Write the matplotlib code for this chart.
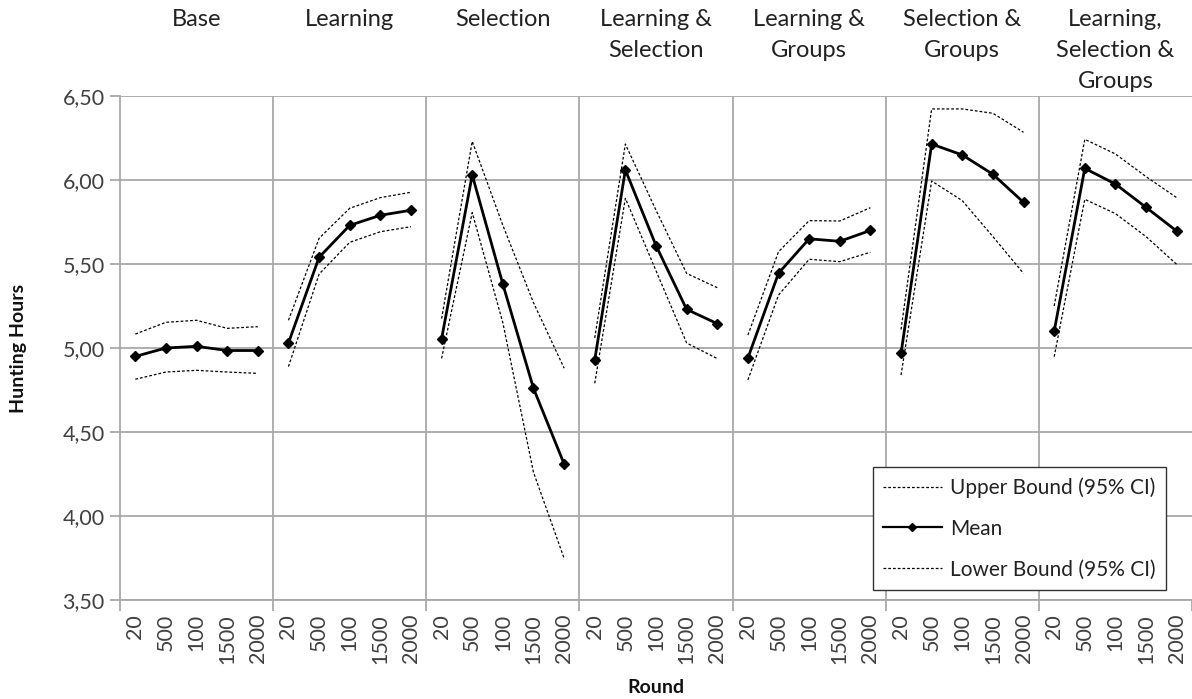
import numpy as np
import matplotlib
matplotlib.use("Agg")
import matplotlib.pyplot as plt
from matplotlib.lines import Line2D

plt.rcParams['font.family'] = ['Lato', 'DejaVu Sans']

conditions = ["Base", "Learning", "Selection", "Learning &\nSelection",
              "Learning &\nGroups", "Selection &\nGroups",
              "Learning,\nSelection &\nGroups"]
rounds = ["20", "500", "100", "1500", "2000"]

mean_values = [
    [4.95, 5.00, 5.01, 4.985, 4.985],
    [5.03, 5.54, 5.73, 5.79, 5.82],
    [5.055, 6.03, 5.38, 4.76, 4.31],
    [4.93, 6.06, 5.61, 5.23, 5.145],
    [4.94, 5.445, 5.65, 5.635, 5.70],
    [4.968, 6.214, 6.149, 6.034, 5.867],
    [5.10, 6.069, 5.976, 5.837, 5.696],
]
upper_values = [
    [5.083, 5.153, 5.165, 5.117, 5.127],
    [5.165, 5.653, 5.832, 5.895, 5.927],
    [5.175, 6.23, 5.73, 5.27, 4.88],
    [5.06, 6.214, 5.82, 5.444, 5.359],
    [5.077, 5.573, 5.758, 5.756, 5.835],
    [5.11, 6.423, 6.423, 6.397, 6.284],
    [5.25, 6.242, 6.155, 6.02, 5.895],
]
lower_values = [
    [4.814, 4.857, 4.867, 4.857, 4.849],
    [4.889, 5.44, 5.629, 5.692, 5.722],
    [4.938, 5.806, 5.15, 4.26, 3.748],
    [4.79, 5.891, 5.46, 5.03, 4.937],
    [4.81, 5.315, 5.528, 5.514, 5.57],
    [4.839, 5.994, 5.877, 5.663, 5.444],
    [4.948, 5.885, 5.80, 5.663, 5.498],
]

W, H = 1192, 699
fig = plt.figure(figsize=(W / 100, H / 100), dpi=100)
ax = fig.add_axes([120 / W, 1 - 600 / H, 1072 / W, 504 / H])

grid_c = '#a8a8a8'
text_c = '#404040'
n = len(rounds)
npan = len(conditions)

ax.set_xlim(-0.5, n * npan - 0.5)
ax.set_ylim(3.5, 6.5)
yt = np.arange(3.5, 6.51, 0.5)
ax.set_yticks(yt)
ax.set_yticklabels([f"{v:.2f}".replace('.', ',') for v in yt])
ax.yaxis.grid(True, color=grid_c, lw=1.3)
ax.set_axisbelow(True)

for p in range(1, npan):
    ax.axvline(p * n - 0.5, color=grid_c, lw=1.3, zorder=0)

ax.set_xticks(np.arange(n * npan))
ax.set_xticklabels(rounds * npan, rotation=90)
ax.set_xticks(np.arange(npan + 1) * n - 0.5, minor=True)
ax.tick_params(axis='x', which='major', length=0, pad=10, labelsize=15.5, labelcolor=text_c)
ax.tick_params(axis='x', which='minor', length=8, color=grid_c, width=1.3)
ax.tick_params(axis='y', length=7, color=grid_c, width=1.3, labelsize=15.5, labelcolor=text_c, pad=4)

for s in ['top', 'right']:
    ax.spines[s].set_visible(False)
for s in ['left', 'bottom']:
    ax.spines[s].set_color(grid_c)
    ax.spines[s].set_linewidth(1.3)

dash = (0, (2.2, 1.6))
for p in range(npan):
    xs = np.arange(n) + p * n
    ax.plot(xs, upper_values[p], color='black', lw=0.9, ls=dash)
    ax.plot(xs, mean_values[p], color='black', lw=2.0, marker='D', ms=5.5)
    ax.plot(xs, lower_values[p], color='black', lw=0.9, ls=dash)
    ax.text(xs.mean(), 1 + 87 / 504, conditions[p], transform=ax.get_xaxis_transform(),
            ha='center', va='top', fontsize=17, color='#222222', linespacing=1.6)

ax.set_ylabel("Hunting Hours", fontsize=14, fontweight='bold', color='#111111')
ax.yaxis.set_label_coords(-(120 - 27) / 1072, 0.5)
ax.set_xlabel("Round", fontsize=14, fontweight='bold', color='#111111')
ax.xaxis.set_label_coords(0.5, -(679 - 600) / 504)

handles = [
    Line2D([], [], color='black', lw=0.9, ls=dash),
    Line2D([], [], color='black', lw=1.6, marker='D', ms=4),
    Line2D([], [], color='black', lw=0.9, ls=dash),
]
labels = ["Upper Bound (95% CI)", "Mean", "Lower Bound (95% CI)"]
leg = ax.legend(handles, labels, loc='lower right', bbox_to_anchor=(0.9757, 0.0198),
                borderaxespad=0, fontsize=15, frameon=True, fancybox=False,
                framealpha=1, edgecolor='#333333', handlelength=2.8,
                labelspacing=1.0, handletextpad=0.4, borderpad=0.5)
leg.get_frame().set_linewidth(1.0)
for t in leg.get_texts():
    t.set_color('#222222')

fig.savefig("out.png", dpi=100)
